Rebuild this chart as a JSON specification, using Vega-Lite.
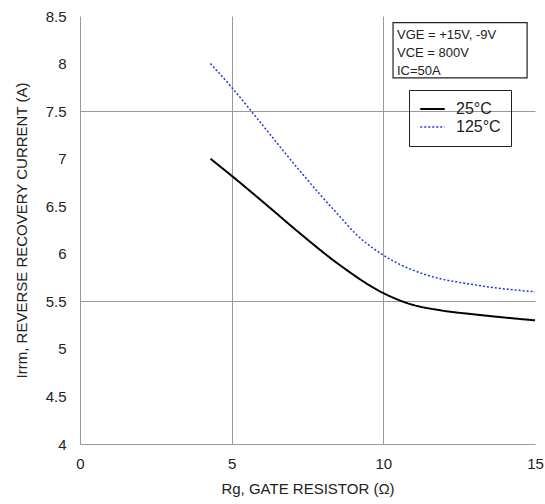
{
  "$schema": "https://vega.github.io/schema/vega-lite/v6.json",
  "width": 455,
  "height": 428,
  "autosize": "none",
  "padding": {"left": 80, "top": 16, "right": 10, "bottom": 60},
  "background": "white",
  "config": {
    "font": "Liberation Sans",
    "view": {"stroke": null}
  },
  "datasets": {
    "curves": [
      {"rg": 4.3, "irrm": 7.0, "temp": "25°C"},
      {"rg": 5.0, "irrm": 6.82, "temp": "25°C"},
      {"rg": 6.2, "irrm": 6.5, "temp": "25°C"},
      {"rg": 7.25, "irrm": 6.215, "temp": "25°C"},
      {"rg": 8.57, "irrm": 5.88, "temp": "25°C"},
      {"rg": 9.98, "irrm": 5.59, "temp": "25°C"},
      {"rg": 10.9, "irrm": 5.47, "temp": "25°C"},
      {"rg": 11.9, "irrm": 5.405, "temp": "25°C"},
      {"rg": 13.08, "irrm": 5.36, "temp": "25°C"},
      {"rg": 15.0, "irrm": 5.3, "temp": "25°C"},
      {"rg": 4.3, "irrm": 8.0, "temp": "125°C"},
      {"rg": 5.0, "irrm": 7.75, "temp": "125°C"},
      {"rg": 6.0, "irrm": 7.36, "temp": "125°C"},
      {"rg": 7.25, "irrm": 6.87, "temp": "125°C"},
      {"rg": 8.57, "irrm": 6.39, "temp": "125°C"},
      {"rg": 9.12, "irrm": 6.2, "temp": "125°C"},
      {"rg": 9.98, "irrm": 5.99, "temp": "125°C"},
      {"rg": 10.6, "irrm": 5.88, "temp": "125°C"},
      {"rg": 11.4, "irrm": 5.78, "temp": "125°C"},
      {"rg": 13.08, "irrm": 5.67, "temp": "125°C"},
      {"rg": 15.0, "irrm": 5.6, "temp": "125°C"}
    ],
    "box": [
      {"x1": 10.32, "x2": 14.74, "y1": 7.85, "y2": 8.43}
    ],
    "notes": [
      {"rg": 10.45, "irrm": 8.3, "label": "VGE = +15V, -9V"},
      {"rg": 10.45, "irrm": 8.11, "label": "VCE = 800V"},
      {"rg": 10.45, "irrm": 7.92, "label": "IC=50A"}
    ]
  },
  "layer": [
    {
      "data": {"name": "curves"},
      "mark": {"type": "line", "interpolate": "monotone"},
      "encoding": {
        "x": {
          "field": "rg", "type": "quantitative",
          "scale": {"domain": [0, 15], "nice": false},
          "axis": {
            "title": "Rg, GATE RESISTOR (Ω)",
            "values": [0, 5, 10, 15],
            "labelFontSize": 15, "titleFontSize": 15, "titleFontWeight": "normal",
            "labelColor": "#222", "titleColor": "#222",
            "labelFlush": false, "labelOverlap": false,
            "ticks": false, "labelPadding": 12, "titlePadding": 10,
            "domainColor": "#999",
            "grid": true, "gridColor": "#999",
            "gridOpacity": {"condition": {"test": "datum.value == 5 || datum.value == 10", "value": 1}, "value": 0}
          }
        },
        "y": {
          "field": "irrm", "type": "quantitative",
          "scale": {"domain": [4, 8.5], "nice": false, "zero": false},
          "axis": {
            "title": "Irrm, REVERSE RECOVERY CURRENT (A)",
            "values": [4, 4.5, 5, 5.5, 6, 6.5, 7, 7.5, 8, 8.5],
            "format": ".1~f",
            "labelFontSize": 15, "titleFontSize": 15, "titleFontWeight": "normal",
            "labelColor": "#222", "titleColor": "#222",
            "labelFlush": false, "labelOverlap": false,
            "ticks": false, "labelPadding": 14, "titlePadding": 16,
            "domainColor": "#999",
            "grid": true, "gridColor": "#999",
            "gridOpacity": {"condition": {"test": "datum.value == 5.5 || datum.value == 7.5", "value": 1}, "value": 0}
          }
        },
        "color": {
          "field": "temp", "type": "nominal",
          "scale": {"domain": ["25°C", "125°C"], "range": ["#000000", "#2233ee"]},
          "legend": {
            "title": null,
            "orient": "none", "legendX": 329, "legendY": 74,
            "strokeColor": "#222", "padding": 10,
            "symbolType": "stroke", "symbolSize": 600, "symbolStrokeWidth": 2,
            "labelFontSize": 16, "labelColor": "#222", "clipHeight": 18, "rowPadding": 0,
            "labelOffset": 10
          }
        },
        "strokeDash": {
          "field": "temp", "type": "nominal",
          "scale": {"domain": ["25°C", "125°C"], "range": [[1, 0], [2, 2]]},
          "legend": {
            "title": null,
            "orient": "none", "legendX": 329, "legendY": 74,
            "strokeColor": "#222", "padding": 10,
            "symbolType": "stroke", "symbolSize": 600, "symbolStrokeWidth": 2,
            "labelFontSize": 16, "labelColor": "#222", "clipHeight": 18, "rowPadding": 0,
            "labelOffset": 10
          }
        },
        "strokeWidth": {
          "field": "temp", "type": "nominal",
          "scale": {"domain": ["25°C", "125°C"], "range": [2, 1.5]},
          "legend": null
        }
      }
    },
    {
      "data": {"name": "box"},
      "mark": {"type": "rect", "fill": "white", "stroke": "#222", "strokeWidth": 1.2},
      "encoding": {
        "x": {"field": "x1", "type": "quantitative"},
        "x2": {"field": "x2"},
        "y": {"field": "y1", "type": "quantitative"},
        "y2": {"field": "y2"}
      }
    },
    {
      "data": {"name": "notes"},
      "mark": {"type": "text", "align": "left", "baseline": "middle", "fontSize": 13, "color": "#222"},
      "encoding": {
        "x": {"field": "rg", "type": "quantitative"},
        "y": {"field": "irrm", "type": "quantitative"},
        "text": {"field": "label"}
      }
    }
  ]
}
